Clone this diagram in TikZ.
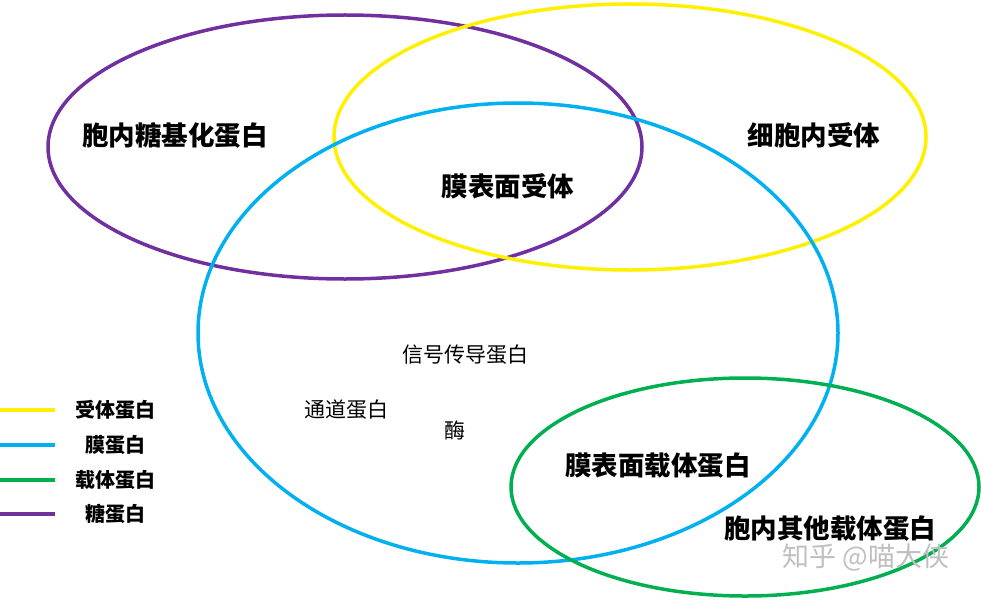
\documentclass[tikz,border=0pt]{standalone}
\usepackage{fontspec}
\newfontfamily\cjk{Noto Sans CJK SC}
\definecolor{recYellow}{RGB}{255,240,0}
\definecolor{memBlue}{RGB}{0,176,240}
\definecolor{carGreen}{RGB}{0,176,80}
\definecolor{glyPurple}{RGB}{112,48,160}
\tikzset{
  ring/.style={line width=3.5pt},
  bigtxt/.style={font=\cjk\bfseries\fontsize{26.5}{30}\selectfont},
  smalltxt/.style={font=\cjk\fontsize{21}{25}\selectfont},
  legtxt/.style={font=\cjk\bfseries\fontsize{20}{24}\selectfont},
}
\begin{document}
\begin{tikzpicture}[x=1pt,y=-1pt]
        \useasboundingbox (0,0) rectangle (981,599);
        % Draw the four sets
        \draw[ring, glyPurple] (345,147) ellipse (297 and 132);
        \draw[ring, recYellow] (630,137) ellipse (296 and 133);
        \draw[ring, memBlue] (518,333) ellipse (320 and 230);
        \draw[ring, carGreen] (745,487) ellipse (234 and 109);
        % Labels inside the sets
        \node[bigtxt] (glyin) at (175,135) {胞内糖基化蛋白};
        \node[bigtxt] (recin) at (814,135) {细胞内受体};
        \node[bigtxt] (recsurf) at (508,186) {膜表面受体};
        \node[smalltxt] (signal) at (465,355) {信号传导蛋白};
        \node[smalltxt] (channel) at (346,410) {通道蛋白};
        \node[smalltxt] (enzyme) at (455,430) {酶};
        \node[bigtxt] (carsurf) at (658,466) {膜表面载体蛋白};
        \node[bigtxt] (carin) at (830,529) {胞内其他载体蛋白};
        % Watermark
        \node[font=\cjk\fontsize{27}{30}\selectfont, text=black!25] (mark) at (866,557) {知乎 @喵大侠};
        % Legend
        \foreach \col/\txt/\y/\nm in {recYellow/受体蛋白/410/lrec, memBlue/膜蛋白/445/lmem,
                                      carGreen/载体蛋白/480/lcar, glyPurple/糖蛋白/514/lgly}
        {
            \node[legtxt] (\nm) at (115,\y) {\txt};
            \draw[\col, line width=4.5pt] (0,\y) -- (55,\y);
        }
\end{tikzpicture}
\end{document}
